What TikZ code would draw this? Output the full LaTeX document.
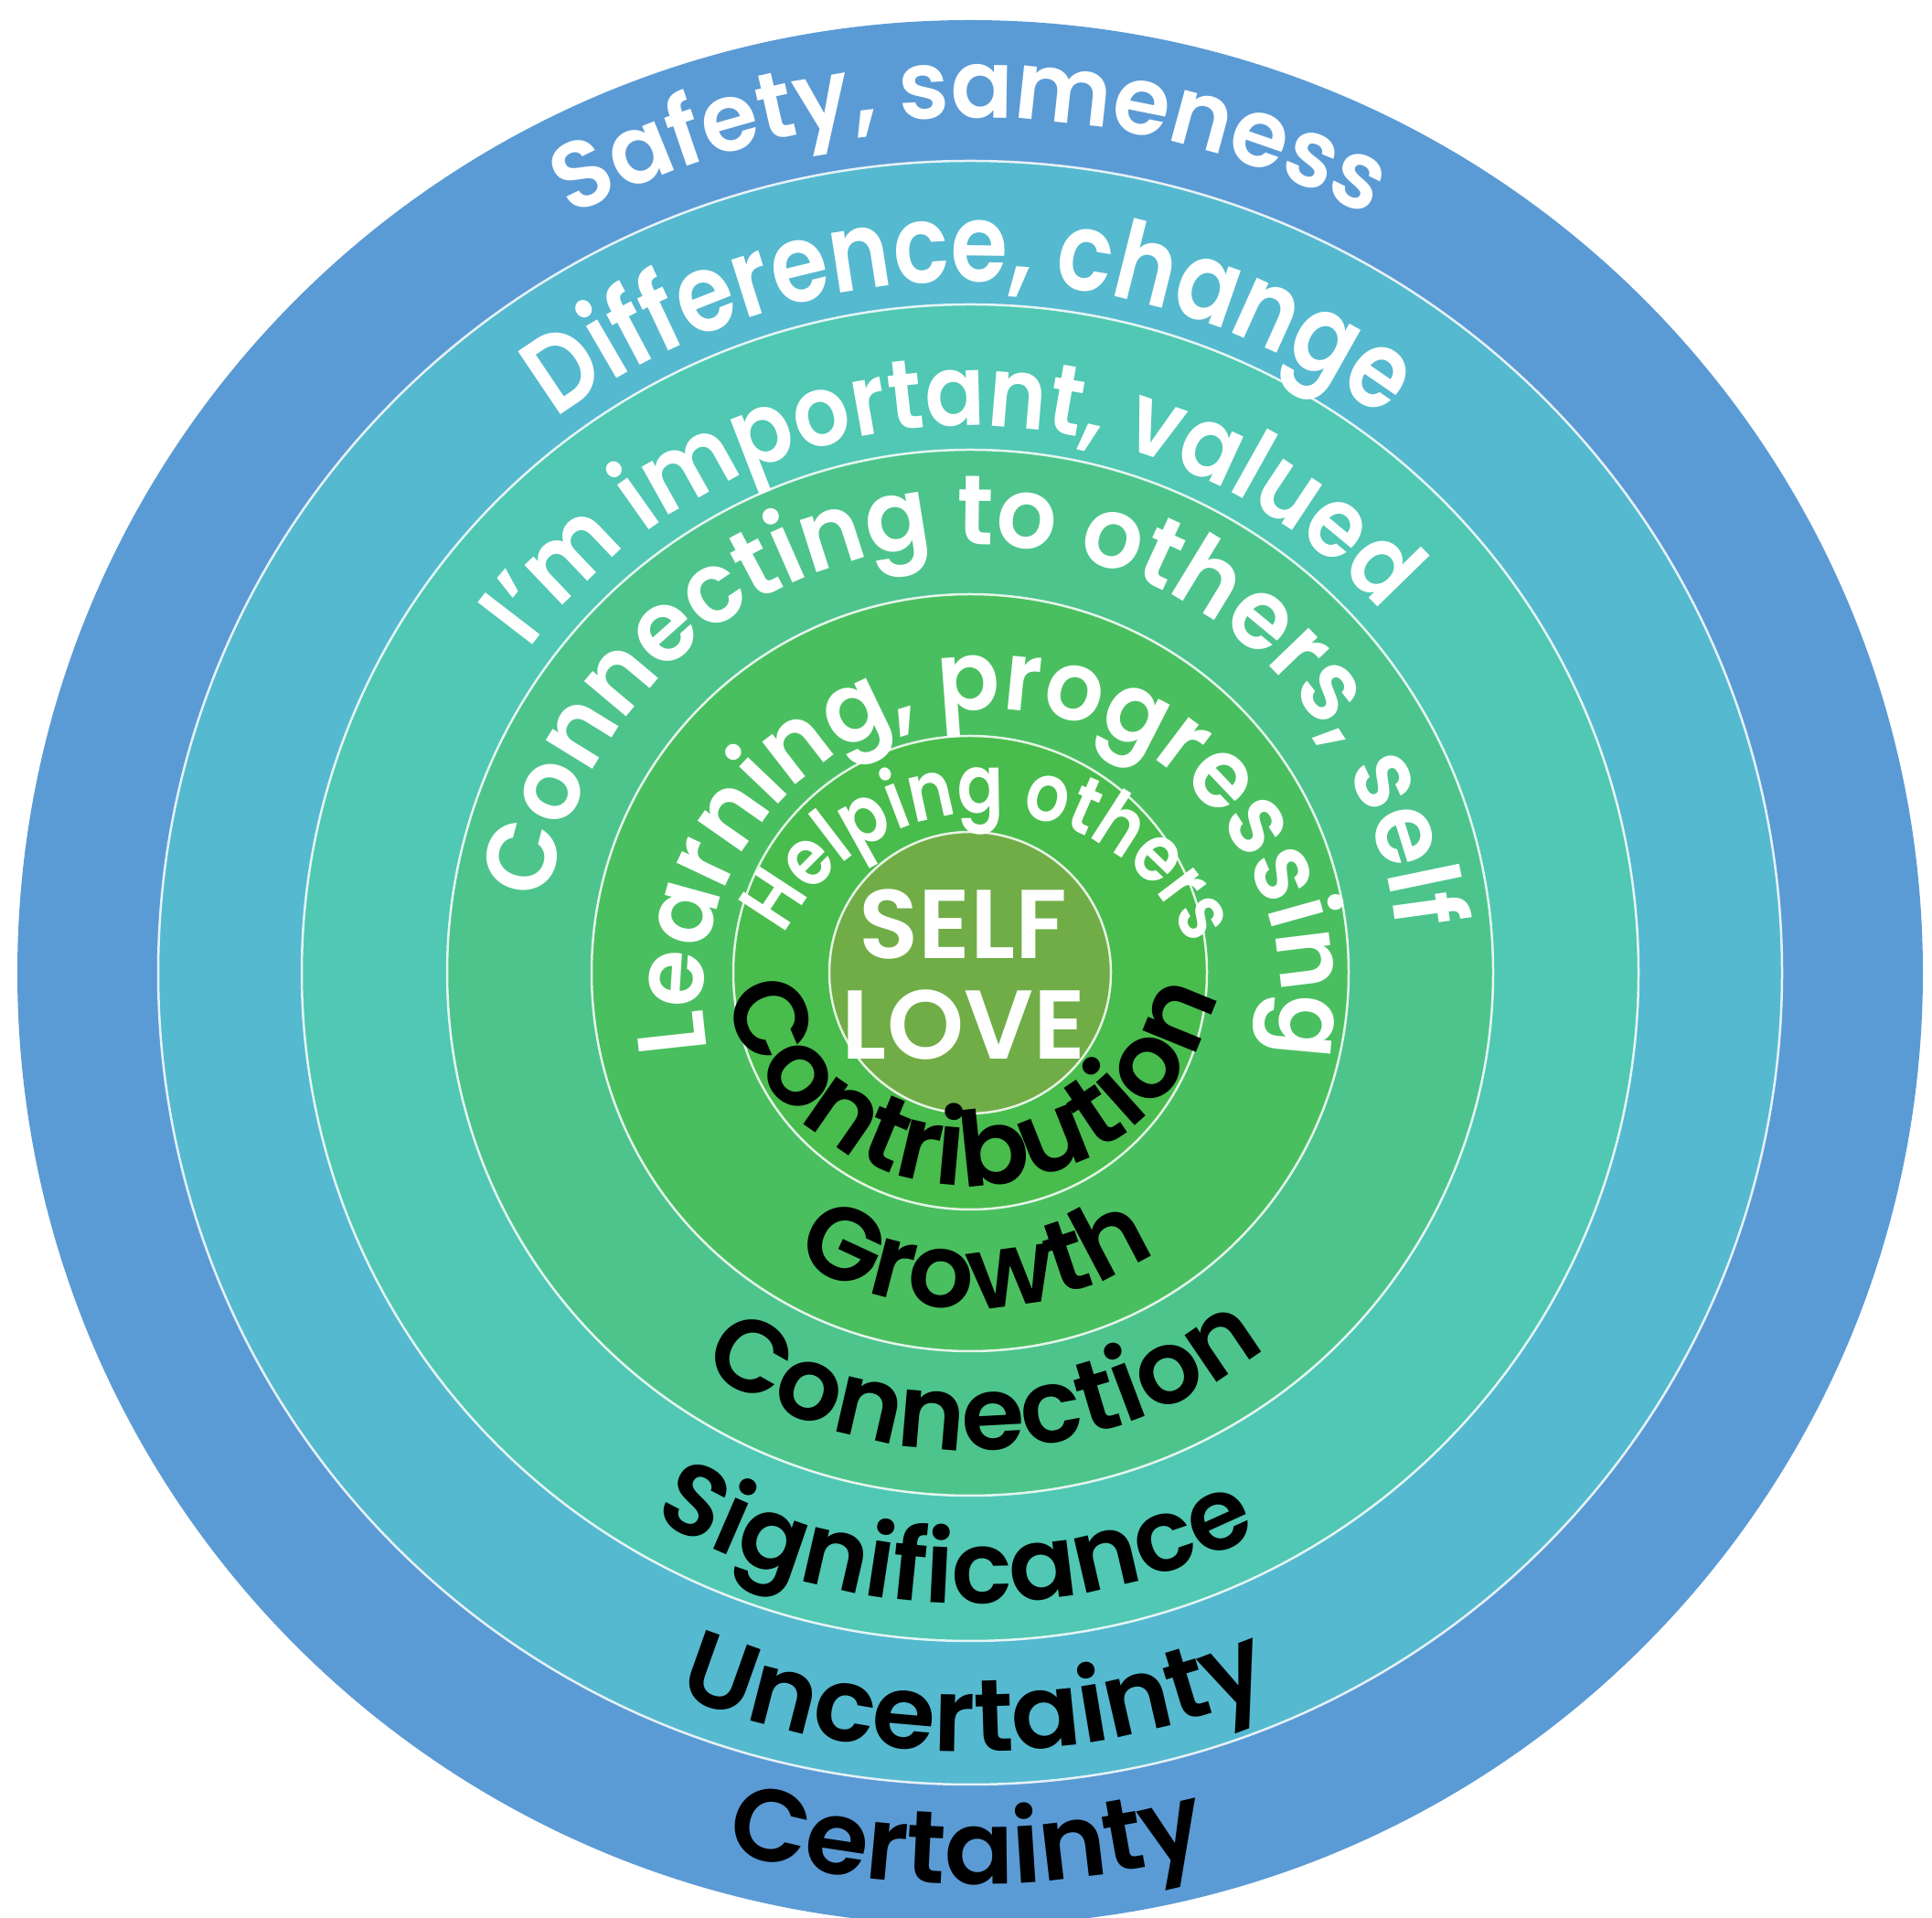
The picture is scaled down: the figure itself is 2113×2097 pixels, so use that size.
\documentclass[tikz,border=0pt]{standalone}
\usepackage{fontspec}
\setmainfont{Poppins}[BoldFont=* SemiBold]
\usetikzlibrary{decorations.text}
\definecolor{ringA}{HTML}{5B9BD5}
\definecolor{ringB}{HTML}{55B9CF}
\definecolor{ringC}{HTML}{50C8B3}
\definecolor{ringD}{HTML}{4DC48C}
\definecolor{ringE}{HTML}{4ABF60}
\definecolor{ringF}{HTML}{48BC4C}
\definecolor{ringG}{HTML}{70AD47}
\tikzset{
  ringline/.style={white, line width=2.5, opacity=0.85},
  centertext/.style={text=white, font=\fontsize{107}{107}\selectfont\bfseries, inner sep=0pt}
}
% centre, radius, centre angle, font size, stretch, text
\newcommand\toparc[6]{%
  \path[decorate, decoration={text along path, text align=center, text color=white,
    text={|\fontsize{#4}{#4}\selectfont\bfseries\addfontfeature{FakeStretch=#5}|#6}}]
    ([shift={(#3+120:#2)}]#1) arc[start angle=#3+120, end angle=#3-120, radius=#2];}
\newcommand\botarc[6]{%
  \path[decorate, decoration={text along path, text align=center, text color=black,
    text={|\fontsize{#4}{#4}\selectfont\bfseries\addfontfeature{FakeStretch=#5}|#6}}]
    ([shift={(#3-120:#2)}]#1) arc[start angle=#3-120, end angle=#3+120, radius=#2];}
\begin{document}
\begin{tikzpicture}[x=1pt,y=1pt]
\useasboundingbox (0,0) rectangle (2113,2097);
\coordinate (c) at (1061,1033);
\coordinate (cL) at (1085,1005);
\coordinate (cH) at (1077,962);
\coordinate (cC) at (1062,1078);
\fill[ringA] (c) circle[radius=1042];
\fill[ringB] (c) circle[radius=888];
\fill[ringC] (c) circle[radius=731];
\fill[ringD] (c) circle[radius=572];
\fill[ringE] (c) circle[radius=414];
\fill[ringF] (c) circle[radius=259];
\fill[ringG] (c) circle[radius=154];
\foreach \r in {888,731,572,414,259,154} \draw[ringline] (c) circle[radius=\r];
\toparc{c}{935}{90}{104}{0.97}{Safety, sameness}
\toparc{c}{756}{90}{119}{0.85}{Difference, change}
\toparc{c}{598}{92.5}{108}{0.9}{I'm important, valued}
\toparc{c}{468}{88}{108}{0.96}{Connecting to others, self}
\toparc{cL}{316}{89.5}{106}{0.95}{Learning, progressing}
\toparc{cH}{246}{88.6}{88}{0.85}{Helping others}
\botarc{cC}{278}{270}{114}{1}{Contribution}
\botarc{c}{367}{271}{113}{1}{Growth}
\botarc{c}{522}{272}{112}{1}{Connection}
\botarc{c}{690}{268.5}{110}{1}{Significance}
\botarc{c}{852}{270.4}{112}{1}{Uncertainty}
\botarc{c}{997}{269.8}{112}{1}{Certainty}
\node[centertext] (self) at (1053,1086) {SELF};
\node[centertext] (love) at (1054,976) {LOVE};
\end{tikzpicture}
\end{document}
